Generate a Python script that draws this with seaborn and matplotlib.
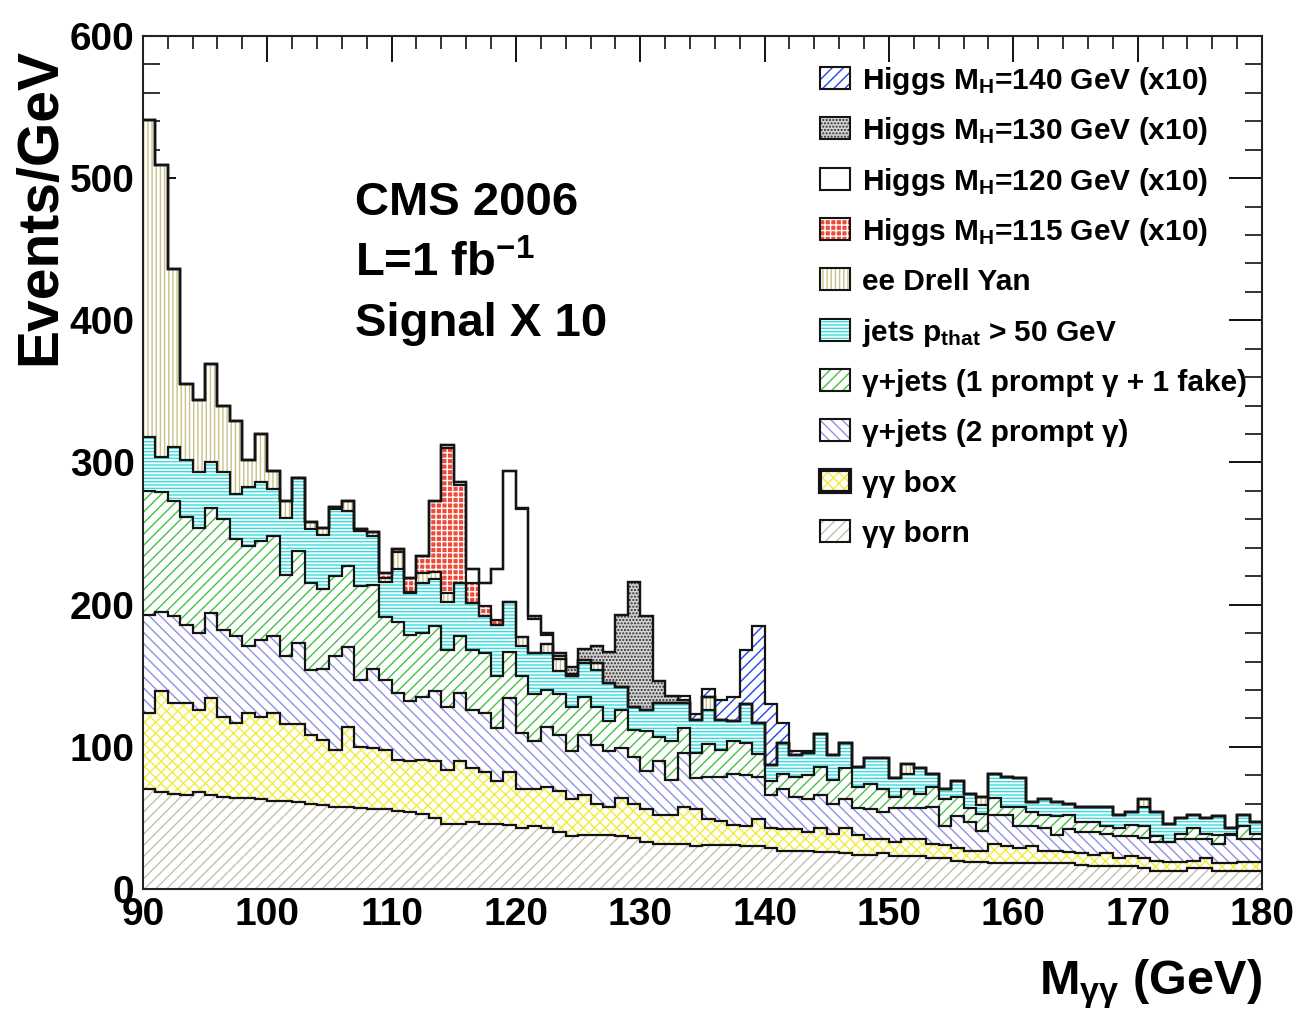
import numpy as np
import pandas as pd
import matplotlib
matplotlib.use("Agg")
import matplotlib.pyplot as plt
import seaborn as sns
from matplotlib.patches import Rectangle
from matplotlib.ticker import MultipleLocator
from matplotlib.colors import to_rgba

# ---------------------------------------------------------------------------
# Di-photon invariant mass, 1 GeV bins from 90 to 180 GeV (events / GeV).
# Background entries are cumulative stack levels, bottom to top.
# ---------------------------------------------------------------------------
mass_edges = list(range(90, 181))

born_top = [70, 68, 67, 66, 68, 66, 65, 64, 64, 63,
            62, 62, 61, 60, 59, 58, 58, 57, 56, 56,
            55, 54, 53, 50, 46, 46, 47, 46, 46, 45,
            43, 44, 43, 40, 37, 38, 38, 38, 37, 36,
            33, 32, 32, 32, 30, 31, 31, 31, 30, 30,
            29, 27, 27, 27, 26, 26, 25, 24, 24, 25,
            23, 23, 23, 22, 22, 20, 19, 19, 18, 18,
            18, 18, 18, 18, 18, 17, 16, 16, 16, 16,
            15, 13, 13, 13, 15, 15, 13, 13, 13, 13]

box_top = [124, 139, 131, 131, 126, 134, 121, 117, 124, 121,
           124, 116, 116, 108, 105, 98, 114, 100, 99, 98,
           91, 90, 91, 90, 84, 90, 85, 82, 76, 82,
           70, 70, 72, 69, 63, 66, 60, 58, 64, 60,
           56, 52, 52, 58, 56, 49, 48, 45, 44, 49,
           43, 42, 42, 40, 43, 39, 43, 38, 35, 35,
           33, 35, 35, 32, 31, 29, 27, 27, 32, 30,
           29, 30, 27, 27, 26, 25, 24, 25, 22, 23,
           22, 20, 19, 19, 20, 22, 18, 18, 19, 19]

prompt2_top = [193, 195, 192, 186, 180, 194, 182, 178, 171, 175,
               178, 164, 173, 154, 155, 164, 170, 147, 155, 147,
               138, 132, 135, 139, 128, 138, 126, 124, 113, 134,
               110, 104, 114, 108, 97, 108, 101, 97, 99, 93,
               83, 90, 77, 96, 78, 79, 79, 81, 80, 79,
               66, 70, 65, 63, 66, 60, 63, 57, 56, 54,
               57, 57, 57, 58, 44, 51, 47, 41, 52, 52,
               44, 44, 43, 38, 42, 40, 40, 39, 37, 37,
               36, 33, 33, 35, 35, 35, 32, 38, 35, 35]

prompt1_top = [280, 279, 273, 262, 254, 268, 260, 246, 241, 245,
               248, 221, 238, 215, 211, 220, 227, 213, 214, 191,
               188, 179, 180, 185, 168, 178, 168, 166, 150, 167,
               150, 137, 140, 137, 128, 135, 128, 118, 126, 112,
               111, 107, 104, 113, 96, 102, 98, 104, 103, 95,
               76, 81, 79, 80, 86, 77, 85, 72, 74, 70,
               65, 70, 67, 72, 63, 65, 57, 53, 64, 58,
               58, 54, 52, 51, 52, 47, 47, 44, 43, 45,
               44, 37, 33, 39, 43, 39, 38, 39, 44, 39]

jets_top = [318, 304, 311, 302, 293, 300, 293, 278, 283, 286,
            281, 261, 289, 253, 249, 267, 266, 252, 248, 216,
            225, 208, 215, 218, 202, 215, 201, 192, 186, 202,
            171, 166, 166, 153, 150, 159, 154, 145, 142, 128,
            126, 131, 131, 131, 119, 126, 119, 118, 130, 117,
            87, 103, 94, 96, 109, 94, 103, 86, 92, 92,
            78, 81, 85, 81, 70, 76, 67, 59, 81, 79,
            78, 61, 63, 61, 60, 58, 58, 58, 52, 54,
            58, 54, 46, 50, 52, 50, 51, 43, 52, 47]

drellyan_top = [541, 509, 436, 355, 344, 369, 340, 329, 302, 320,
                294, 273, 289, 258, 254, 269, 273, 253, 251, 219,
                237, 209, 222, 223, 208, 215, 201, 192, 186, 202,
                177, 166, 172, 162, 150, 161, 159, 145, 142, 128,
                126, 131, 131, 131, 119, 135, 119, 118, 130, 117,
                87, 103, 94, 96, 109, 94, 103, 86, 92, 92,
                78, 88, 85, 81, 70, 76, 67, 65, 81, 79,
                78, 61, 63, 61, 60, 58, 58, 58, 52, 54,
                63, 54, 46, 50, 52, 50, 51, 43, 52, 47]

# Higgs signals scaled x10, listed from their first filled bin (GeV)
higgs115_from, higgs115 = 109, [3, 2, 10, 12, 50, 102, 69, 14, 7, 3]
higgs120_from, higgs120 = 114, [2, 2, 10, 16, 36, 92, 90, 24, 7, 2, 1]
higgs130_from, higgs130 = 120, [1, 2, 1, 2, 5, 8, 12, 22, 51, 88, 66, 15, 5, 2]
higgs140_from, higgs140 = 133, [3, 4, 6, 14, 17, 38, 68, 43, 14, 3, 1]

# Processes from the bottom of the stack to the top
stack_order = ["born", "box", "prompt2", "prompt1", "jets", "dy",
               "h115", "h120", "h130", "h140"]

labels = {
    "h140": "Higgs M$_{H}$=140 GeV (x10)",
    "h130": "Higgs M$_{H}$=130 GeV (x10)",
    "h120": "Higgs M$_{H}$=120 GeV (x10)",
    "h115": "Higgs M$_{H}$=115 GeV (x10)",
    "dy": "ee Drell Yan",
    "jets": "jets p$_{that}$ > 50 GeV",
    "prompt1": "\u03b3+jets (1 prompt \u03b3 + 1 fake)",
    "prompt2": "\u03b3+jets (2 prompt \u03b3)",
    "box": "\u03b3\u03b3 box",
    "born": "\u03b3\u03b3 born",
}

# fill style: key colour (palette), face colour, hatch pattern, hatch colour
styles = {
    "born":    dict(key="#c4c1ae", face="white",   hatch="///",    hc="#c4c1ae", lw=1.5),
    "box":     dict(key="#f3ec3c", face="white",   hatch="xxx",    hc="#f3ec3c", lw=3.0),
    "prompt2": dict(key="#9090e2", face="white",   hatch="\\\\\\", hc="#9090e2", lw=1.5),
    "prompt1": dict(key="#46c046", face="white",   hatch="///",    hc="#46c046", lw=1.5),
    "jets":    dict(key="#22dddd", face="white",   hatch="-----",  hc="#30e0e0", lw=1.5),
    "dy":      dict(key="#c9bf86", face="white",   hatch="||||",   hc="#cbc18a", lw=1.5),
    "h115":    dict(key="#ee4433", face="#ef4a3a", hatch="+++",    hc="white",   lw=1.5),
    "h120":    dict(key="#fafafa", face="white",   hatch=None,     hc="white",   lw=1.5),
    "h130":    dict(key="#9a9a9a", face="#d4d4d4", hatch=".....",  hc="#2a2a2a", lw=1.5),
    "h140":    dict(key="#2244ee", face="white",   hatch="///",    hc="#2244ee", lw=1.5),
}

# ---------------------------------------------------------------------------
edges = np.array(mass_edges, dtype=float)
centres = edges[:-1] + 0.5
nbins = len(centres)


def spread(first, values):
    out = np.zeros(nbins)
    i = int(first - edges[0])
    out[i:i + len(values)] = values
    return out


levels = np.vstack([born_top, box_top, prompt2_top, prompt1_top,
                    jets_top, drellyan_top]).astype(float)
bkg = np.clip(np.diff(np.vstack([np.zeros(nbins), levels]), axis=0), 0, None)

yields = dict(zip(stack_order[:6], bkg))
yields["h115"] = spread(higgs115_from, higgs115)
yields["h120"] = spread(higgs120_from, higgs120)
yields["h130"] = spread(higgs130_from, higgs130)
yields["h140"] = spread(higgs140_from, higgs140)

df = pd.concat([pd.DataFrame({"mass": centres, "events": yields[p], "process": p})
                for p in stack_order], ignore_index=True)

# ---------------------------------------------------------------------------
sns.set_theme(style="ticks")
plt.rcParams["font.family"] = ["Liberation Sans", "DejaVu Sans"]
plt.rcParams["font.weight"] = "bold"
plt.rcParams["mathtext.default"] = "regular"
plt.rcParams["hatch.linewidth"] = 1.0
for key in ("text.color", "axes.labelcolor", "xtick.color", "ytick.color",
            "xtick.labelcolor", "ytick.labelcolor"):
    plt.rcParams[key] = "black"

fig = plt.figure(figsize=(12.99, 10.16), dpi=100)
ax = fig.add_axes([0.110, 0.125, 0.9715 - 0.110, 0.9646 - 0.125])

sns.histplot(data=df, x="mass", weights="events", hue="process",
             hue_order=stack_order[::-1], multiple="stack", bins=list(mass_edges),
             element="step", fill=True, linewidth=0, legend=False,
             palette={p: styles[p]["key"] for p in stack_order}, ax=ax)

# give each stacked layer its hatch, identified by its palette colour
keys = {p: np.array(to_rgba(styles[p]["key"]))[:3] for p in stack_order}
for coll in ax.collections:
    fc = np.array(coll.get_facecolor()[0][:3])
    proc = min(keys, key=lambda p: np.abs(keys[p] - fc).sum())
    st = styles[proc]
    coll.set_alpha(1)
    coll.set_facecolor(st["face"])
    coll.set_edgecolor(st["hc"])
    if st["hatch"]:
        coll.set_hatch(st["hatch"])
    coll.set_linewidth(0)

# histogram outlines of the stack levels
running = np.zeros(nbins)
for p in stack_order:
    running = running + yields[p]
    ax.stairs(running.copy(), edges, baseline=None, color="#141414",
              linewidth=1.6, zorder=3)

ax.set_xlim(90, 180)
ax.set_ylim(0, 600)
ax.xaxis.set_major_locator(MultipleLocator(10))
ax.xaxis.set_minor_locator(MultipleLocator(2))
ax.yaxis.set_major_locator(MultipleLocator(100))
ax.yaxis.set_minor_locator(MultipleLocator(20))
ax.tick_params(axis="both", which="both", direction="in", top=True, right=True,
               color="#111111", labelcolor="black", labelsize=28, pad=6)
ax.tick_params(axis="x", which="major", length=19, width=1.4)
ax.tick_params(axis="x", which="minor", length=9, width=1.2)
ax.tick_params(axis="y", which="major", length=24, width=1.4)
ax.tick_params(axis="y", which="minor", length=12, width=1.2)
for lab in ax.get_xticklabels() + ax.get_yticklabels():
    lab.set_fontweight("bold")
for sp in ax.spines.values():
    sp.set_color("#222222")
    sp.set_linewidth(1.5)
ax.set_xlabel("")
ax.set_ylabel("")

fig.text(0.031, 0.797, "Events/GeV", rotation=90, ha="center", va="center",
         fontsize=41, fontweight="bold", color="black")
fig.text(0.9715, 0.021, "M$_{\u03b3\u03b3}$ (GeV)", ha="right", va="baseline",
         fontsize=35, fontweight="bold", color="black")

for txt, yb in [("CMS 2006", 0.790), ("L=1 fb$^{-1}$", 0.7187), ("Signal X 10", 0.648)]:
    ax.text(0.1895, yb, txt, transform=ax.transAxes, ha="left", va="baseline",
            fontsize=34, fontweight="bold", color="black")

# legend, top entry first
def ax_x(px):
    return (px - 143) / 1119.0


def ax_y(py):
    return (889 - py) / 853.0


for k, p in enumerate(stack_order[::-1]):
    st = styles[p]
    yc = 78 + 50.35 * k
    box = Rectangle((ax_x(820), ax_y(yc + 11)), 30 / 1119.0, 22 / 853.0,
                    transform=ax.transAxes, facecolor=st["face"], edgecolor=st["hc"],
                    hatch=st["hatch"], linewidth=0, clip_on=False, zorder=4)
    ax.add_patch(box)
    frame = Rectangle((ax_x(820), ax_y(yc + 11)), 30 / 1119.0, 22 / 853.0,
                      transform=ax.transAxes, facecolor="none", edgecolor="#141414",
                      linewidth=st["lw"], clip_on=False, zorder=5)
    ax.add_patch(frame)
    ax.text(ax_x(862), ax_y(yc + 11), labels[p], transform=ax.transAxes,
            ha="left", va="baseline", fontsize=21.5, fontweight="bold",
            color="black", zorder=5)

fig.savefig("out.png", dpi=100)
